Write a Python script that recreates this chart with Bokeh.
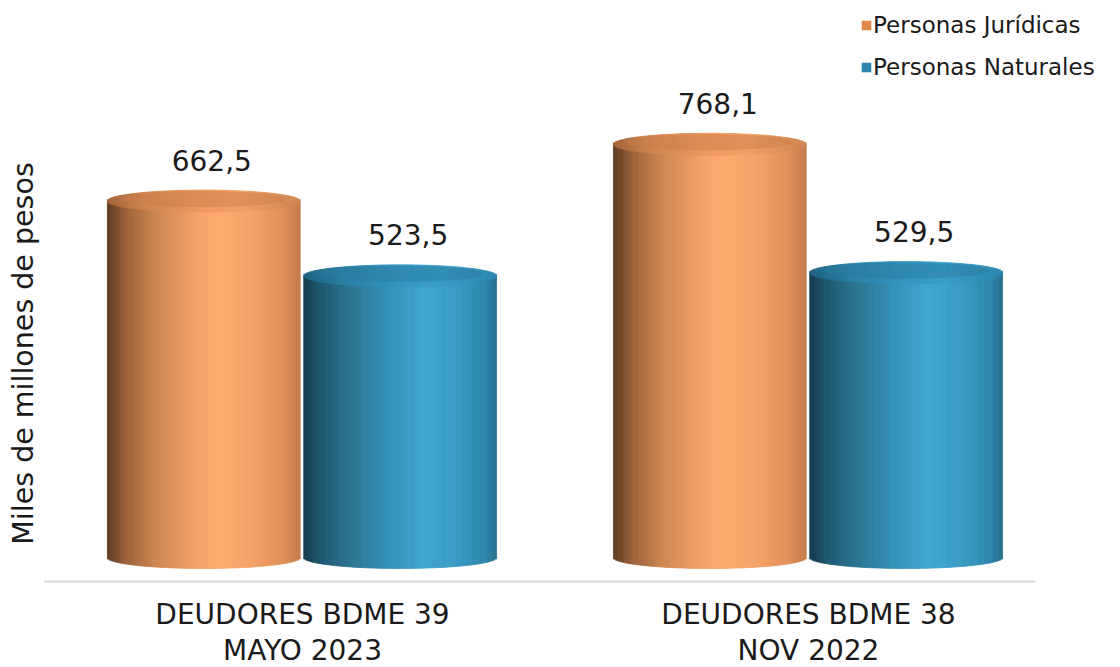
import numpy as np
from bokeh.plotting import figure
from bokeh.models import ColumnDataSource, Range1d, Label, Legend, LegendItem
from bokeh.embed import file_html
from bokeh.resources import INLINE
from bokeh.core.properties import value

# ---------------- data ----------------
categories = ["DEUDORES BDME 39\nMAYO 2023", "DEUDORES BDME 38\nNOV 2022"]
series_names = ["Personas Jurídicas", "Personas Naturales"]
juridicas = [662.5, 768.1]
naturales = [523.5, 529.5]
y_title = "Miles de millones de pesos"

# ---------------- style / geometry ----------------
FONT = "DejaVu Sans"
W, H = 1120, 667
XMIN, XMAX = -0.5968, 1.6166
YMIN, YMAX = -204.5, 1035.3
BASE_Y = -44.6            # floor line of the chart
BASE_X = (-0.51, 1.4486)
BAR_W = 0.381
OFFSETS = [-0.195, 0.193]
CAP_HALF_PX = 11.0
N_STRIPS = 90

body_stops = [
    [(0.0, "#5b3a20"), (0.1, "#9c6239"), (0.25, "#cc8550"), (0.45, "#f3a067"),
     (0.58, "#fdab6d"), (0.75, "#f4a267"), (0.9, "#e39159"), (1.0, "#c37c4b")],
    [(0.0, "#143a4c"), (0.1, "#1f5a73"), (0.25, "#2b7592"), (0.45, "#3592b9"),
     (0.62, "#3fa6d1"), (0.8, "#379bc3"), (0.95, "#2d84a8"), (1.0, "#276f8e")],
]
cap_stops = [
    [(0.0, "#a3643a"), (0.2, "#d08650"), (0.5, "#ee9a60"), (0.7, "#f2a066"), (1.0, "#d08551")],
    [(0.0, "#1d6280"), (0.2, "#2a7fa3"), (0.5, "#3597c0"), (0.7, "#3a9fca"), (1.0, "#2d87ad")],
]
inner_cap = ["#c97d49", "#2a7a9e"]
legend_colors = ["#e0884c", "#2f86ad"]


def hex2rgb(h):
    h = h.lstrip("#")
    return np.array([int(h[i:i + 2], 16) for i in (0, 2, 4)], dtype=float)


def grad(stops, t):
    ts = [s[0] for s in stops]
    cs = np.array([hex2rgb(s[1]) for s in stops])
    r = np.interp(t, ts, cs[:, 0])
    g = np.interp(t, ts, cs[:, 1])
    b = np.interp(t, ts, cs[:, 2])
    return "#%02x%02x%02x" % (int(round(r)), int(round(g)), int(round(b)))


ppu = H / (YMAX - YMIN)  # pixels per data unit (y)
cap_half = CAP_HALF_PX / ppu

p = figure(width=W, height=H, x_range=Range1d(XMIN, XMAX), y_range=Range1d(YMIN, YMAX),
           output_backend="svg", toolbar_location=None,
           min_border_left=0, min_border_right=0, min_border_top=0, min_border_bottom=0)
p.outline_line_color = None
p.grid.visible = False
p.xaxis.visible = False
p.yaxis.visible = False
p.background_fill_color = "white"
p.border_fill_color = "white"

series_values = [juridicas, naturales]

body = dict(left=[], right=[], top=[], bottom=[], color=[])
caps = dict(left=[], right=[], top=[], bottom=[], color=[])
inner = dict(x=[], y=[], color=[])
lab = dict(x=[], y=[], text=[])

for s, vals in enumerate(series_values):
    for i, v in enumerate(vals):
        cx = i + OFFSETS[s]
        x0 = cx - BAR_W / 2
        dx = BAR_W / N_STRIPS
        for k in range(N_STRIPS):
            l = x0 + k * dx
            r = l + dx
            tm = (k + 0.5) / N_STRIPS
            rel = 2 * tm - 1
            off = cap_half * np.sqrt(max(0.0, 1 - rel * rel))
            body["left"].append(l); body["right"].append(r)
            body["bottom"].append(0 - off); body["top"].append(v)
            body["color"].append(grad(body_stops[s], tm))
            caps["left"].append(l); caps["right"].append(r)
            caps["bottom"].append(v - off); caps["top"].append(v + off)
            caps["color"].append(grad(cap_stops[s], tm))
        inner["x"].append(cx); inner["y"].append(v + 2.0 / ppu); inner["color"].append(inner_cap[s])
        lab["x"].append(cx); lab["y"].append(v)
        lab["text"].append(("%.1f" % v).replace(".", ","))

# floor line
p.segment(x0=[BASE_X[0]], x1=[BASE_X[1]], y0=[BASE_Y], y1=[BASE_Y], line_color="#d9d9d9", line_width=2)

p.quad(left="left", right="right", top="top", bottom="bottom", source=ColumnDataSource(body),
       fill_color="color", line_color="color", line_width=0.8)
p.quad(left="left", right="right", top="top", bottom="bottom", source=ColumnDataSource(caps),
       fill_color="color", line_color="color", line_width=0.8)
p.ellipse(x="x", y="y", width=BAR_W * 0.86, height=CAP_HALF_PX * 1.45, height_units="screen",
          source=ColumnDataSource(inner), fill_color="color", fill_alpha=0.45, line_color=None)

# value labels
p.text(x="x", y="y", text="text", source=ColumnDataSource(lab), x_offset=8, y_offset=-41,
       text_align="center", text_baseline="alphabetic", text_font=value(FONT),
       text_font_size="28px", text_color="#1a1a1a")

# category labels
p.text(x=list(range(len(categories))), y=[BASE_Y] * len(categories), text=categories,
       y_offset=17, text_align="center", text_baseline="top", text_font=value(FONT),
       text_font_size="28px", text_color="#1a1a1a", text_line_height=1.07)

# y title
p.add_layout(Label(x=23, y=H - 353, x_units="screen", y_units="screen", text=y_title,
                   angle=np.pi / 2, text_align="center", text_baseline="middle",
                   text_font=FONT, text_font_size="28.5px", text_color="#1a1a1a"))

# legend
items = []
for s in range(2):
    r = p.quad(left=[-5], right=[-4], top=[-5000], bottom=[-5001],
               fill_color=legend_colors[s], line_color=None)
    items.append(LegendItem(label=series_names[s], renderers=[r]))
leg = Legend(items=items, location=(860, H - 80), orientation="vertical",
             glyph_width=12, glyph_height=12, label_standoff=1, spacing=16,
             padding=0, margin=0, border_line_color=None, background_fill_alpha=0,
             label_text_font=FONT, label_text_font_size="23px", label_text_color="#1a1a1a")
p.add_layout(leg)

open("out.html", "w").write(file_html(p, INLINE))
